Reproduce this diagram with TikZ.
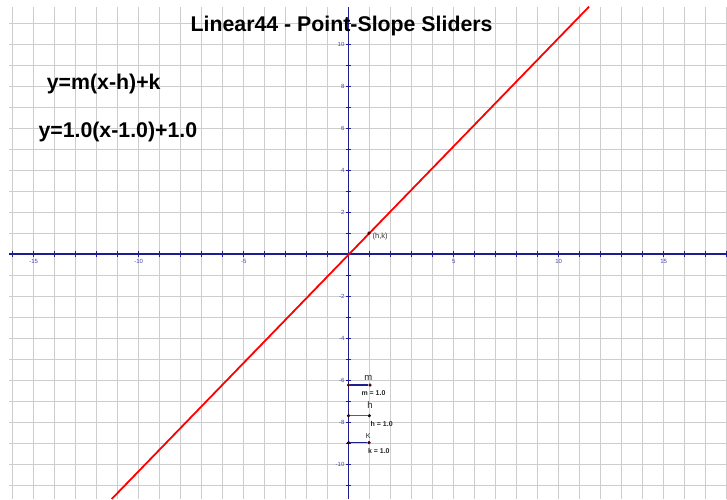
\documentclass[tikz,border=0pt]{standalone}
\usepackage{fontspec}
\setmainfont{Liberation Sans}
\definecolor{gridgray}{RGB}{205,205,205}
\definecolor{axisblue}{RGB}{30,30,145}
\definecolor{labelblue}{RGB}{70,70,170}
\definecolor{sliderlight}{RGB}{85,85,185}
\definecolor{ptred}{RGB}{90,0,0}
\begin{document}
\begin{tikzpicture}[x=1pt,y=-1pt,
  gridline/.style={draw=gridgray,line width=1pt},
  axisline/.style={draw=axisblue,line width=1.3pt},
  tickmark/.style={draw=axisblue,line width=1pt},
  ticklabel/.style={text=labelblue,font=\fontsize{6}{7}\selectfont,inner sep=0pt},
  bigtext/.style={font=\fontsize{21.3}{25}\selectfont\bfseries,inner sep=0pt,anchor=base west},
  sliderline/.style={line width=1.2pt},
  sliderpt/.style={circle,fill=ptred,draw=black,line width=0.3pt,inner sep=0pt,minimum size=3pt},
  slidername/.style={font=\fontsize{9.5}{10}\selectfont,inner sep=0pt,text=black!85},
  slidervalue/.style={font=\fontsize{7}{8}\selectfont\bfseries,inner sep=0pt,text=black!85},
  graphline/.style={draw=red,line width=1.8pt}
]
\fill[white] (0,0) rectangle (727,499);
\useasboundingbox (0,0) rectangle (727,499);
% grid
\foreach \i in {-16,...,18} \draw[gridline] ({348.7+21*\i},7) -- ({348.7+21*\i},499);
\foreach \j in {-11,...,11} \draw[gridline] (9,{254+21*\j}) -- (727,{254+21*\j});
% axes
\coordinate (xl) at (9,254);
\coordinate (xr) at (727,254);
\coordinate (yt) at (348.7,7);
\coordinate (yb) at (348.7,499);
\draw[axisline] (xl) -- (xr);
\draw[axisline] (yt) -- (yb);
\foreach \i in {-16,...,18} \draw[tickmark] ({348.7+21*\i},251) -- ({348.7+21*\i},257);
\foreach \j in {-11,...,11} \draw[tickmark] (346,{254+21*\j}) -- (351.4,{254+21*\j});
\foreach \v in {-15,-10,-5,5,10,15} \node[ticklabel] (xlab\v) at ({348.7+21*\v},261.5) {\v};
\foreach \v in {-10,-8,-6,-4,-2,2,4,6,8,10} \node[ticklabel,anchor=east] (ylab\v) at (344.6,{254-21*\v}) {\v};
% graph line y = m(x-h)+k
\coordinate (lb) at (111.7,499);
\coordinate (lt) at (589,6.7);
\draw[graphline] (lb) -- (lt);
% point (h,k)
\node[sliderpt] (hk) at (369,233) {};
\node[font=\fontsize{7.5}{8}\selectfont,inner sep=0pt,text=black!80,anchor=west] (hklab) at (372.5,236.8) {(h,k)};
% texts
\node[bigtext] (title) at (190.5,31.7) {Linear44 - Point-Slope Sliders};
\node[bigtext] (eq1) at (46.7,89.3) {y=m(x-h)+k};
\node[bigtext] (eq2) at (38.3,137.7) {y=1.0(x-1.0)+1.0};
% sliders
\node[sliderpt] (m0) at (348.5,385) {};
\node[sliderpt] (m1) at (370,385) {};
\draw[sliderline,draw=axisblue] (m0) -- (m1);
\node[slidername] (mname) at (368.3,377.5) {m};
\node[slidervalue] (mval) at (373.5,393.5) {m = 1.0};
\node[sliderpt] (h0) at (348.5,415.7) {};
\node[sliderpt] (h1) at (369.3,415.7) {};
\draw[sliderline,draw=sliderlight] (h0) -- (h1);
\node[slidername] (hname) at (370,405) {h};
\node[slidervalue] (hval) at (381.7,423.5) {h = 1.0};
\node[sliderpt] (k0) at (348.5,442.7) {};
\node[sliderpt] (k1) at (369,442.7) {};
\draw[sliderline,draw=axisblue] (k0) -- (k1);
\node[slidername,font=\fontsize{7}{8}\selectfont] (kname) at (368.3,436.5) {K};
\node[slidervalue] (kval) at (378.8,451) {k = 1.0};
\end{tikzpicture}
\end{document}
